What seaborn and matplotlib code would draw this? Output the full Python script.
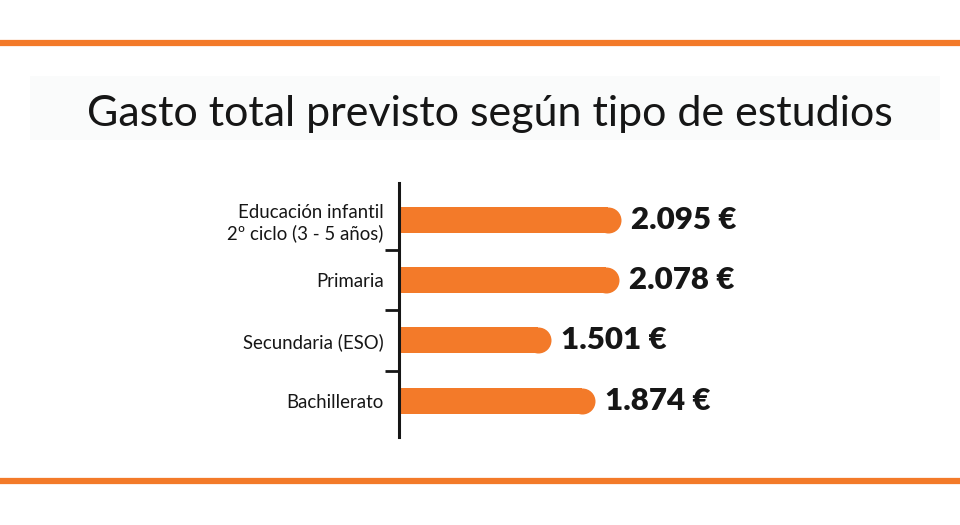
import numpy as np
import pandas as pd
import seaborn as sns
import matplotlib.pyplot as plt
from matplotlib.patches import Rectangle
from matplotlib.lines import Line2D

sns.set_style('white')
plt.rcParams['font.family'] = ['Lato', 'DejaVu Sans']

# data
categories = ['Educación infantil\n2º ciclo (3 - 5 años)', 'Primaria',
              'Secundaria (ESO)', 'Bachillerato']
gasto = [2095, 2078, 1501, 1874]
value_labels = ['2.095 €', '2.078 €', '1.501 €', '1.874 €']
title = 'Gasto total previsto según tipo de estudios'

ORANGE = '#F37A29'
INK = '#161616'

df = pd.DataFrame({'tipo': categories, 'gasto': gasto})

fig = plt.figure(figsize=(9.6, 5.25), dpi=100)
fig.patch.set_facecolor('white')

# orange rules top / bottom + faint title band
fig.add_artist(Line2D([0, 1], [1 - 43 / 525, 1 - 43 / 525], color=ORANGE, lw=4.5))
fig.add_artist(Line2D([0, 1], [1 - 481 / 525, 1 - 481 / 525], color=ORANGE, lw=4.5))
fig.add_artist(Rectangle((30 / 960, 1 - 140 / 525), 910 / 960, 64 / 525,
                         color='#fafbfb', lw=0, zorder=0))
fig.text(490 / 960, 1 - 126 / 525, title, ha='center', va='baseline',
         fontsize=31, color=INK)

# axes geometry (pixels)
ax_left, ax_w = 399, 501
ax_top, ax_bot = 183, 437
px_per_unit = 0.1178
x0 = 210
ax = fig.add_axes([ax_left / 960, 1 - ax_bot / 525, ax_w / 960, (ax_bot - ax_top) / 525])

sns.barplot(data=df, x='gasto', y='tipo', orient='h', color=ORANGE,
            saturation=1, width=0.43, ax=ax)

ax.set_xlim(x0, x0 + ax_w / px_per_unit)
ax.set_ylim(3.6, -0.61)

# rounded bar ends
bar_px = 26
r_data = (bar_px / 2) / px_per_unit
for i, (p, v) in enumerate(zip(ax.patches, gasto)):
    p.set_width(v - r_data)
    p.set_linewidth(0)
    ax.scatter(v - r_data, i, s=(bar_px * 0.72) ** 2, marker='o',
               color=ORANGE, linewidths=0, zorder=3)
    ax.text(v + 85, i, value_labels[i], va='center', ha='left',
            fontsize=22.5, fontweight='heavy', color=INK)

# ticks between categories, labels at categories
ax.set_yticks([0.5, 1.5, 2.5], labels=[])
ax.set_yticks(range(len(categories)), labels=categories, minor=True)
ax.tick_params(axis='y', which='major', length=10, width=2, color=INK, left=True)
ax.tick_params(axis='y', which='minor', length=0, pad=11, labelsize=13.4,
               labelcolor=INK)
for lab in ax.get_yticklabels(minor=True):
    lab.set_horizontalalignment('right')
    lab.set_linespacing(1.2)
ax.set_xticks([])
ax.set_xlabel('')
ax.set_ylabel('')
for s in ['top', 'right', 'bottom']:
    ax.spines[s].set_visible(False)
ax.spines['left'].set_linewidth(2.2)
ax.spines['left'].set_color(INK)
ax.set_facecolor('none')

fig.savefig('out.png', dpi=100)
